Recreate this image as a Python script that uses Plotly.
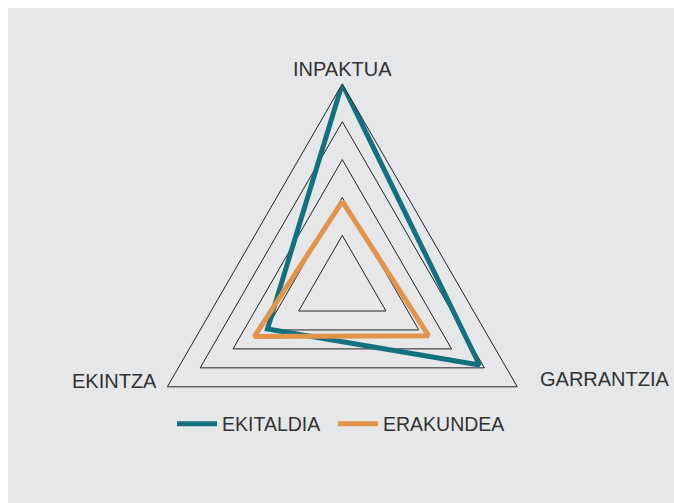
import plotly.graph_objects as go

categories = ['INPAKTUA', 'GARRANTZIA', 'EKINTZA']
ekitaldia = [5.0, 3.85, 1.95]
erakundea = [1.9, 2.3, 2.35]
grid_levels = [1, 2, 3, 4, 5]

W, H = 674, 503
cx, cy, R = 342.3, 285.8, 202

fig = go.Figure()

for name, vals, color, leg in [('EKITALDIA', ekitaldia, '#13707f', 'legend'),
                               ('ERAKUNDEA', erakundea, '#e3944b', 'legend2')]:
    fig.add_trace(go.Scatterpolar(
        r=vals + vals[:1], theta=categories + categories[:1],
        mode='lines', name=name, legend=leg, showlegend=True,
        line=dict(color=color, width=5),
    ))

# category labels placed beside the vertices
label_pos = {'INPAKTUA': (342.3, 69, 'center'),
             'GARRANTZIA': (538.3, 379, 'left'),
             'EKINTZA': (159, 380.5, 'right')}
annotations = []
for cat in categories:
    x, y, anchor = label_pos[cat]
    annotations.append(dict(text=cat, x=x / W, y=1 - y / H, xref='paper', yref='paper',
                            xanchor=anchor, yanchor='middle', showarrow=False,
                            font=dict(size=20, color='#333333')))

legend_style = dict(orientation='h', xanchor='left', y=1 - 424 / H, yanchor='middle',
                    bgcolor='rgba(0,0,0,0)', font=dict(size=19.5), itemwidth=40)

fig.update_layout(
    width=W, height=H,
    margin=dict(l=0, r=0, t=0, b=0),
    paper_bgcolor='white',
    showlegend=True,
    font=dict(family='Liberation Sans, Arial, sans-serif', color='#333333', size=19.5),
    annotations=annotations,
    shapes=[dict(type='rect', xref='paper', yref='paper',
                 x0=8 / W, x1=1, y0=0, y1=1 - 8 / H,
                 fillcolor='#e6e7e8', line_width=0, layer='below')],
    polar=dict(
        domain=dict(x=[(cx - R) / W, (cx + R) / W],
                    y=[1 - (cy + R) / H, 1 - (cy - R) / H]),
        bgcolor='rgba(0,0,0,0)',
        gridshape='linear',
        radialaxis=dict(range=[-0.33, 5], tickvals=grid_levels, showticklabels=False,
                        showline=False, ticks='', gridcolor='#222222', gridwidth=1),
        angularaxis=dict(rotation=90, direction='clockwise', showgrid=False,
                         showline=True, linecolor='#222222', linewidth=1,
                         ticks='', showticklabels=False),
    ),
    legend=dict(x=172 / W, **legend_style),
    legend2=dict(x=333 / W, **legend_style),
)

# drop the default page margin so the figure fills the window
fig.write_html('out.html', config={'displayModeBar': False},
               post_script="document.body.style.margin='0';"
                           "document.documentElement.style.overflow='hidden';")
